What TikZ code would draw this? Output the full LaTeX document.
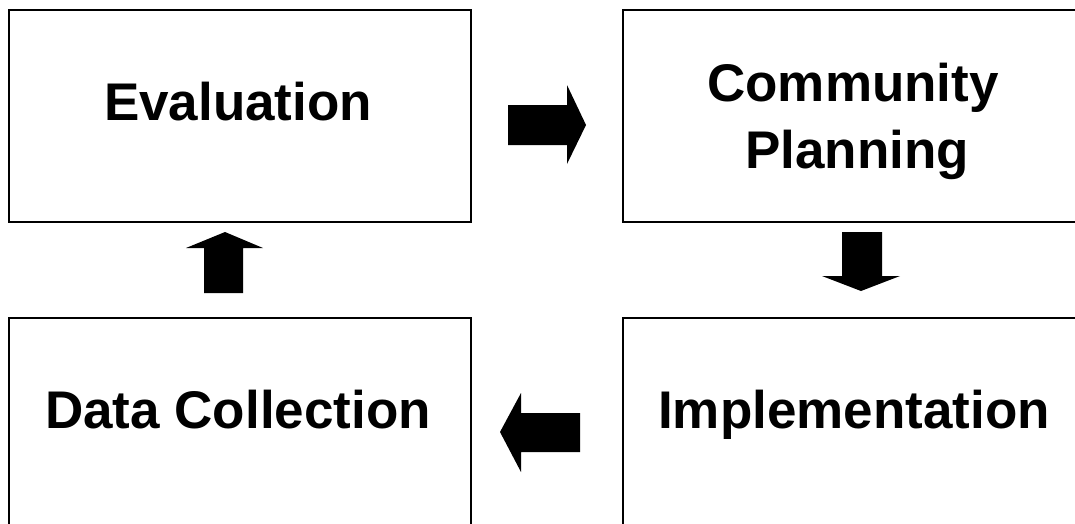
\documentclass[tikz,border=0pt]{standalone}
\usepackage{fontspec}
\setmainfont{Liberation Sans}
\begin{document}
\begin{tikzpicture}[x=1pt,y=-1pt,
  box/.style={draw=black, line width=2.2pt, minimum width=462pt, minimum height=212pt, inner sep=0pt, outer sep=0pt},
  lbl/.style={font=\fontsize{53}{64}\selectfont\bfseries, inner sep=0pt, anchor=base},
  blockarrow/.style={fill=black}]
\useasboundingbox (0,0) rectangle (1075,523);
\clip (0,0) rectangle (1075,523);
\node[box] (eval) at (240,116) {};
\node[box] (plan) at (854,116) {};
\node[box] (data) at (240,424) {};
\node[box] (impl) at (854,424) {};
\node[lbl] (evalt) at (238,120) {Evaluation};
\node[lbl] (plant1) at (853,101) {Community};
\node[lbl] (plant2) at (857,168) {Planning};
\node[lbl] (datat) at (238,428) {Data Collection};
\node[lbl] (implt) at (854,428) {Implementation};
% right arrow (eval -> plan)
\fill[blockarrow] (508,105) -- (567,105) -- (567,85) -- (586,125) -- (567,164) -- (567,145) -- (508,145) -- cycle;
% down arrow (plan -> impl)
\fill[blockarrow] (842,232) -- (882,232) -- (882,276) -- (900,276) -- (861,291) -- (822,276) -- (842,276) -- cycle;
% left arrow (impl -> data)
\fill[blockarrow] (580,413) -- (521,413) -- (521,393) -- (500,432) -- (521,472) -- (521,452) -- (580,452) -- cycle;
% up arrow (data -> eval)
\fill[blockarrow] (204,293) -- (204,248) -- (186,248) -- (225,232) -- (263,248) -- (243,248) -- (243,293) -- cycle;
\end{tikzpicture}
\end{document}
